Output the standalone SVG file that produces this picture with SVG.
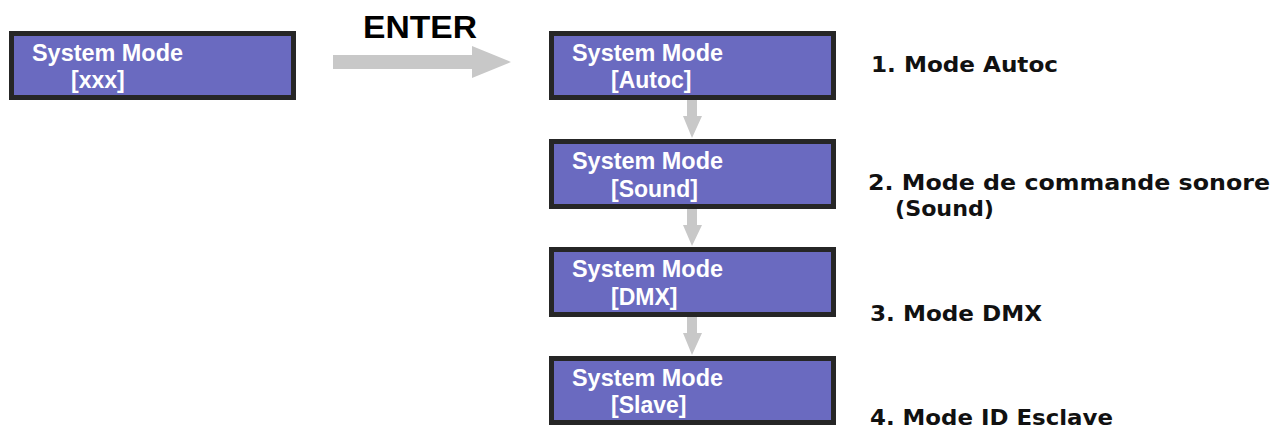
<svg xmlns="http://www.w3.org/2000/svg" width="1271" height="431" viewBox="0 0 1271 431">
<style>
.box{fill:#6a6ac0;stroke:#262626;stroke-width:5}
.bt{font-family:"Liberation Sans",Arial,sans-serif;font-weight:bold;font-size:23px;fill:#ffffff}
.lbl{font-family:"DejaVu Sans",sans-serif;font-weight:bold;font-size:22px;fill:#111111}
.arr{fill:#c8c8c8}
.ent{font-family:"Liberation Sans",Arial,sans-serif;font-weight:bold;font-size:31px;fill:#000000}
</style>
<rect width="1271" height="431" fill="#ffffff"/>
<g id="connectors">
<polygon class="arr" points="333,55 472,55 472,46 511,62 472,78 472,69 333,69"/>
<polygon class="arr" points="687,100 697,100 697,116 702,116 692,138 683,116 687,116"/>
<polygon class="arr" points="687,209 697,209 697,225 702,225 692,246 683,225 687,225"/>
<polygon class="arr" points="687,317 697,317 697,333 702,333 692,355 683,333 687,333"/>
<text class="ent" x="363" y="38" textLength="114" lengthAdjust="spacingAndGlyphs">ENTER</text>
</g>
<g id="node-start">
<rect class="box" x="11.5" y="33.5" width="282" height="64"/>
<text class="bt" x="32" y="61" textLength="151" lengthAdjust="spacingAndGlyphs">System Mode</text>
<text class="bt" x="71" y="88">[xxx]</text>
</g>
<g id="node-autoc">
<rect class="box" x="551.5" y="33.5" width="282" height="64"/>
<text class="bt" x="572" y="61" textLength="151" lengthAdjust="spacingAndGlyphs">System Mode</text>
<text class="bt" x="611" y="88">[Autoc]</text>
</g>
<g id="node-sound">
<rect class="box" x="551.5" y="141.5" width="282" height="65"/>
<text class="bt" x="572" y="169" textLength="151" lengthAdjust="spacingAndGlyphs">System Mode</text>
<text class="bt" x="611" y="197">[Sound]</text>
</g>
<g id="node-dmx">
<rect class="box" x="551.5" y="249.5" width="282" height="65"/>
<text class="bt" x="572" y="277" textLength="151" lengthAdjust="spacingAndGlyphs">System Mode</text>
<text class="bt" x="611" y="305">[DMX]</text>
</g>
<g id="node-slave">
<rect class="box" x="551.5" y="358.5" width="282" height="64"/>
<text class="bt" x="572" y="386" textLength="151" lengthAdjust="spacingAndGlyphs">System Mode</text>
<text class="bt" x="611" y="413">[Slave]</text>
</g>
<g id="labels">
<text class="lbl" x="871" y="72" textLength="187" lengthAdjust="spacingAndGlyphs">1. Mode Autoc</text>
<text class="lbl" x="868" y="190" textLength="402" lengthAdjust="spacingAndGlyphs">2. Mode de commande sonore</text>
<text class="lbl" x="895" y="216" textLength="99" lengthAdjust="spacingAndGlyphs">(Sound)</text>
<text class="lbl" x="870" y="321" textLength="172" lengthAdjust="spacingAndGlyphs">3. Mode DMX</text>
<text class="lbl" x="870" y="425" textLength="243" lengthAdjust="spacingAndGlyphs">4. Mode ID Esclave</text>
</g>
</svg>
